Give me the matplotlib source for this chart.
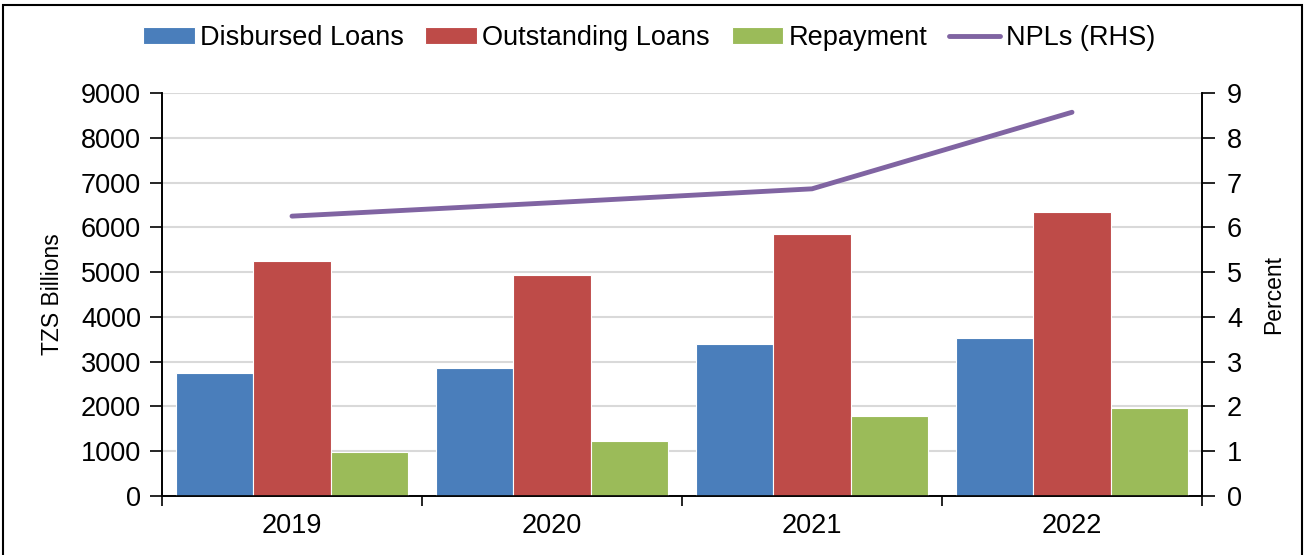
import matplotlib
matplotlib.use("Agg")
import matplotlib.pyplot as plt
import numpy as np
from matplotlib.patches import Rectangle

years = ["2019", "2020", "2021", "2022"]
disbursed = [2750, 2860, 3390, 3530]
outstanding = [5250, 4930, 5850, 6340]
repayment = [980, 1230, 1790, 1970]
npl = [6.25, 6.55, 6.86, 8.57]
left_ticks = [0, 1000, 2000, 3000, 4000, 5000, 6000, 7000, 8000, 9000]
right_ticks = [0, 1, 2, 3, 4, 5, 6, 7, 8, 9]

plt.rcParams['font.family'] = ['Liberation Sans', 'DejaVu Sans']

fig = plt.figure(figsize=(13.06, 5.55), dpi=100)
ax = fig.add_axes([162/1306, 1-496/555, (1202-162)/1306, (496-93)/555])
ax2 = ax.twinx()

x = np.arange(len(years))
w = 0.298
cols = ['#4A7EBB', '#BE4B48', '#9BBB59']
names = ['Disbursed Loans', 'Outstanding Loans', 'Repayment']
for i, (vals, c, n) in enumerate(zip([disbursed, outstanding, repayment], cols, names)):
    ax.bar(x + (i - 1) * w, vals, width=w, color=c, edgecolor='white', linewidth=0.8, label=n, zorder=3)

ax2.plot(x, npl, color='#8064A2', linewidth=3.5, label='NPLs (RHS)', solid_capstyle='round', zorder=4)

ax.set_xlim(-0.5, len(years) - 0.5)
ax.set_ylim(0, 9000)
ax2.set_ylim(0, 9)
ax.set_yticks(left_ticks)
ax2.set_yticks(right_ticks)
ax.yaxis.grid(True, color='#d9d9d9', linewidth=1.5, zorder=0)
ax.set_axisbelow(True)

ax.set_xticks(np.arange(-0.5, len(years), 1.0))
ax.set_xticklabels([])
ax.set_xticks(x, minor=True)
ax.set_xticklabels(years, minor=True)
ax.tick_params(axis='x', which='major', length=7, width=1.2, direction='out')
ax.tick_params(axis='x', which='minor', length=0, labelsize=19.5, pad=12)
ax.tick_params(axis='y', length=9, width=1.2, direction='out', labelsize=19.5, pad=6)
ax2.tick_params(axis='y', length=9, width=1.2, direction='out', labelsize=19.5, pad=9)

for a in (ax, ax2):
    a.spines['top'].set_visible(False)
    for s in ('left', 'right', 'bottom'):
        a.spines[s].set_linewidth(1.2)
ax.set_ylabel('TZS Billions', fontsize=16.5, labelpad=12)
ax2.set_ylabel('Percent', fontsize=16.5, labelpad=14)

h1, l1 = ax.get_legend_handles_labels()
h2, l2 = ax2.get_legend_handles_labels()
fig.legend(h1 + h2, l1 + l2, loc='center', bbox_to_anchor=(0.497, 1 - 38/555), ncol=4,
           frameon=False, fontsize=19.5, handlelength=1.9, handleheight=0.55,
           handletextpad=0.2, columnspacing=0.8)

fig.patches.append(Rectangle((3/1306, -0.05), (1302-3)/1306, 1.05 - 5/555,
                             transform=fig.transFigure, fill=False, edgecolor='black', linewidth=1.5))

fig.savefig('out.png', dpi=100)
